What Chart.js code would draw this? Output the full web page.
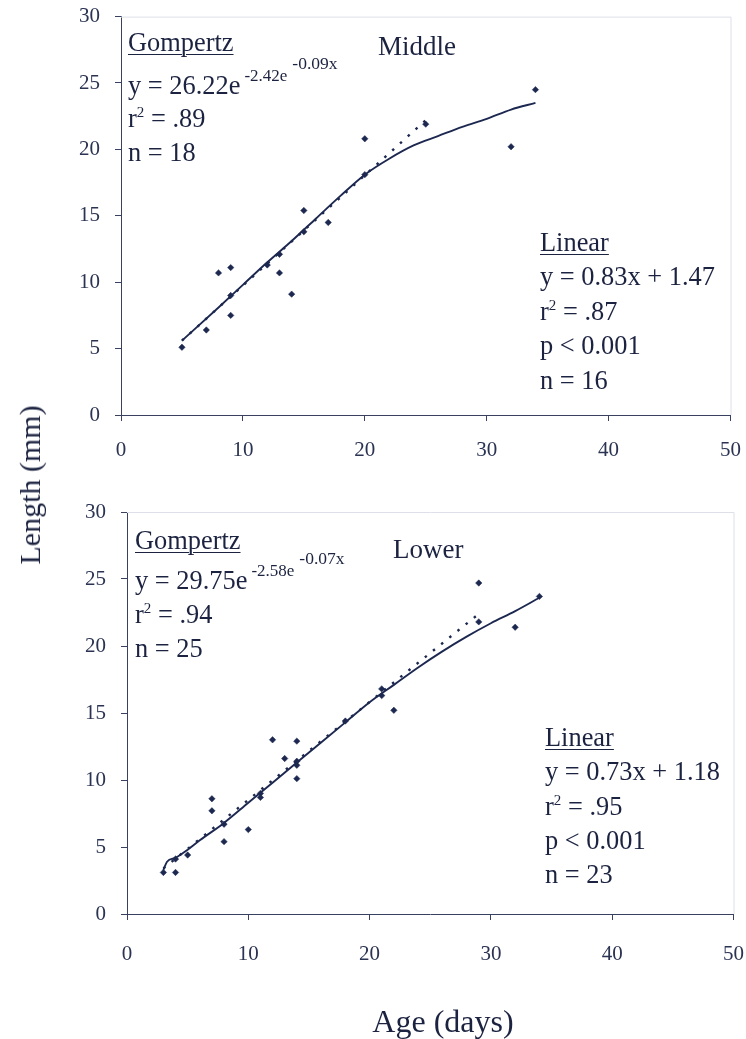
<!DOCTYPE html>
<html>
<head>
<meta charset="utf-8">
<script src="https://cdn.jsdelivr.net/npm/chart.js@4/dist/chart.umd.min.js"></script>
<style>
  html, body { margin: 0; padding: 0; background: #ffffff; }
  body { width: 746px; height: 1039px; position: relative; overflow: hidden; font-family: "Liberation Serif", "Times New Roman", serif; color: #1c2340; }
  canvas { position: absolute; left: 0; }
  #c1 { top: -11px; }
  #c2 { top: 480px; }
  .t { position: absolute; font-size: 26.4px; line-height: 1; white-space: nowrap; }
  .ttl { position: absolute; font-size: 27px; line-height: 1; white-space: nowrap; }
  .u { text-decoration: underline; text-decoration-thickness: 1px; text-underline-offset: 3px; }
  .s1 { font-size: 17px; position: relative; top: -13px; margin-left: 4px; }
  .s2 { font-size: 17.5px; position: relative; top: -12px; margin-left: 5px; }
  .sq { font-size: 15px; position: relative; top: -10px; }
  .axt { position: absolute; white-space: nowrap; }
</style>
</head>
<body>
<canvas id="c1" width="758" height="491"></canvas>
<canvas id="c2" width="766" height="559"></canvas>

<!-- Middle panel annotations -->
<div class="t u" style="left:128px; top:29px;">Gompertz</div>
<div class="t" style="left:128px; top:72px;">y = 26.22e<span class="s1">-2.42e<span class="s2">-0.09x</span></span></div>
<div class="ttl" style="left:378px; top:33px;">Middle</div>
<div class="t" style="left:128px; top:105px;">r<span class="sq">2</span> = .89</div>
<div class="t" style="left:128px; top:139px;">n = 18</div>

<div class="t u" style="left:540px; top:229px;">Linear</div>
<div class="t" style="left:540px; top:263px;">y = 0.83x + 1.47</div>
<div class="t" style="left:540px; top:298px;">r<span class="sq">2</span> = .87</div>
<div class="t" style="left:540px; top:332px;">p &lt; 0.001</div>
<div class="t" style="left:540px; top:367px;">n = 16</div>

<!-- Lower panel annotations -->
<div class="t u" style="left:135px; top:527px;">Gompertz</div>
<div class="t" style="left:135px; top:567px;">y = 29.75e<span class="s1">-2.58e<span class="s2">-0.07x</span></span></div>
<div class="ttl" style="left:393px; top:536px;">Lower</div>
<div class="t" style="left:135px; top:601px;">r<span class="sq">2</span> = .94</div>
<div class="t" style="left:135px; top:635px;">n = 25</div>

<div class="t u" style="left:545px; top:724px;">Linear</div>
<div class="t" style="left:545px; top:758px;">y = 0.73x + 1.18</div>
<div class="t" style="left:545px; top:793px;">r<span class="sq">2</span> = .95</div>
<div class="t" style="left:545px; top:827px;">p &lt; 0.001</div>
<div class="t" style="left:545px; top:861px;">n = 23</div>

<div class="axt" style="font-size:30px; left:30px; top:485px; transform: translate(-50%,-50%) rotate(-90deg);">Length (mm)</div>
<div class="axt" style="font-size:32px; left:443px; top:1021px; transform: translate(-50%,-50%);">Age (days)</div>

<script>
// ---- Data ----
const xTickValues = [0, 10, 20, 30, 40, 50];
const yTickValues = [0, 5, 10, 15, 20, 25, 30];

// Middle panel: observed points
const midAge = [5, 7, 8, 9, 9, 9, 12, 13, 13, 14, 15, 15, 17, 20, 20, 25, 32, 34];
const midLen = [5.1, 6.4, 10.7, 11.1, 7.5, 9.0, 11.3, 12.1, 10.7, 9.1, 15.4, 13.8, 14.5, 20.8, 18.1, 21.9, 20.2, 24.5];
// Middle panel: Gompertz curve as drawn
const midFitAge = [5, 8, 10, 12, 14, 16, 18, 20, 22, 24, 26, 28, 30, 32, 34];
const midFitLen = [5.6, 8.1, 9.8, 11.5, 13.1, 14.8, 16.5, 18.1, 19.3, 20.3, 21.0, 21.7, 22.3, 23.0, 23.5];
// Middle panel: linear fit (dotted) end points
const midLinAge = [5, 25];
const midLinLen = [5.6, 22.2];

// Lower panel: observed points
const lowAge = [3, 4, 4, 5, 7, 7, 8, 8, 10, 11, 11, 12, 13, 14, 14, 14, 14, 18, 21, 21, 22, 29, 29, 32, 34];
const lowLen = [3.1, 3.1, 4.1, 4.4, 8.6, 7.7, 5.4, 6.7, 6.3, 9.0, 8.7, 13.0, 11.6, 12.9, 10.1, 11.4, 11.1, 14.4, 16.8, 16.3, 15.2, 24.7, 21.8, 21.4, 23.7];
// Lower panel: Gompertz curve as drawn
const lowFitAge = [3, 3.3, 4, 5, 6, 8, 10, 12, 14, 16, 18, 20, 22, 24, 26, 28, 30, 32, 34];
const lowFitLen = [3.3, 3.9, 4.2, 4.8, 5.5, 6.8, 8.3, 9.8, 11.3, 12.8, 14.3, 15.8, 17.1, 18.4, 19.6, 20.7, 21.7, 22.6, 23.6];
// Lower panel: linear fit (dotted) end points
const lowLinAge = [3, 29];
const lowLinLen = [3.4, 22.4];

// ---- Styling ----
const INK = '#1d2850';
const TICK = '#2b3352';
const FONT = '"Liberation Serif", "Times New Roman", serif';

function pts(xs, ys) { return xs.map((x, i) => ({ x: x, y: ys[i] })); }

const borderPlugin = {
  id: 'faintBorder',
  beforeDatasetsDraw(chart) {
    const a = chart.chartArea, ctx = chart.ctx;
    ctx.save();
    ctx.strokeStyle = '#dde0e8';
    ctx.lineWidth = 1;
    ctx.beginPath();
    ctx.moveTo(a.left, a.top + 0.5);
    ctx.lineTo(a.right + 0.5, a.top + 0.5);
    ctx.lineTo(a.right + 0.5, a.bottom);
    ctx.stroke();
    ctx.restore();
  }
};

function makeChart(id, obsX, obsY, fitX, fitY, linX, linY, geo) {
  new Chart(document.getElementById(id), {
    type: 'scatter',
    data: {
      datasets: [
        {
          label: 'Linear', data: pts(linX, linY), showLine: true,
          borderColor: INK, borderWidth: 2.4, borderDash: [2.5, 8], pointRadius: 0, fill: false
        },
        {
          label: 'Gompertz', data: pts(fitX, fitY), showLine: true,
          borderColor: INK, borderWidth: 1.9, pointRadius: 0, fill: false,
          cubicInterpolationMode: 'monotone'
        },
        {
          label: 'Observed', data: pts(obsX, obsY), showLine: false,
          pointStyle: 'rectRot', pointRadius: 3.2, pointBackgroundColor: INK,
          pointBorderColor: INK, pointBorderWidth: 0.5
        }
      ]
    },
    options: {
      responsive: false,
      animation: false,
      devicePixelRatio: 1,
      layout: { autoPadding: false, padding: { left: 0, right: 0, top: geo.top, bottom: 0 } },
      plugins: { legend: { display: false }, tooltip: { enabled: false } },
      scales: {
        x: {
          type: 'linear', min: 0, max: 50,
          afterBuildTicks: (s) => { s.ticks = xTickValues.map(v => ({ value: v })); },
          afterFit: (s) => { s.height = geo.xh; },
          border: { display: true, color: '#3a4060', width: 1 },
          grid: { display: true, drawOnChartArea: false, drawTicks: true, tickLength: 6, color: '#3a4060' },
          ticks: { color: TICK, font: { family: FONT, size: 21 }, padding: geo.xpad, maxRotation: 0 }
        },
        y: {
          type: 'linear', min: 0, max: 30,
          afterBuildTicks: (s) => { s.ticks = yTickValues.map(v => ({ value: v })); },
          afterFit: (s) => { s.width = geo.yw; },
          border: { display: true, color: '#3a4060', width: 1 },
          grid: { display: true, drawOnChartArea: false, drawTicks: true, tickLength: 6, color: '#3a4060' },
          ticks: { color: TICK, font: { family: FONT, size: 21 }, padding: 15 }
        }
      }
    },
    plugins: [borderPlugin]
  });
}

makeChart('c1', midAge, midLen, midFitAge, midFitLen, midLinAge, midLinLen,
  { top: 0, xh: 65, yw: 121, xpad: 17 });
makeChart('c2', lowAge, lowLen, lowFitAge, lowFitLen, lowLinAge, lowLinLen,
  { top: 32, xh: 125, yw: 127, xpad: 22 });
</script>
</body>
</html>
